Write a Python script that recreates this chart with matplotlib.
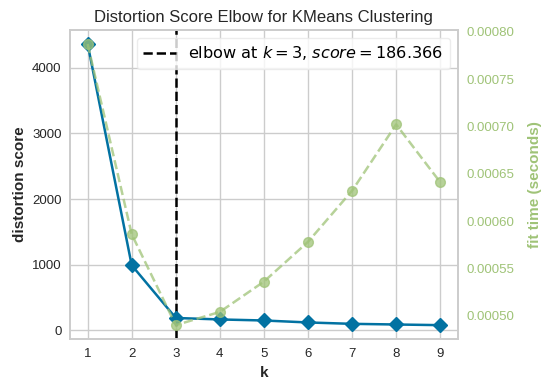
import matplotlib.pyplot as plt
import numpy as np

# values
k_values = [1, 2, 3, 4, 5, 6, 7, 8, 9]
distortion = [4364, 990, 186.366, 164, 148, 118, 97, 87, 77]
fit_time = [0.000787, 0.000586, 0.000490, 0.000504, 0.000536,
            0.000578, 0.000632, 0.000702, 0.000641]
elbow_k = 3
elbow_score = 186.366

blue = "#0272a2"
green = "#9fc377"

plt.rcParams['font.family'] = ['Liberation Sans', 'DejaVu Sans']
plt.rcParams['mathtext.fontset'] = 'dejavusans'
plt.rcParams['axes.edgecolor'] = '#cccccc'
plt.rcParams['grid.color'] = '#cccccc'
plt.rcParams['xtick.color'] = '#262626'
plt.rcParams['ytick.color'] = '#262626'
plt.rcParams['axes.labelcolor'] = '#262626'

fig, ax = plt.subplots(figsize=(5.47, 3.89), dpi=100)
fig.subplots_adjust(left=0.128, right=0.837, top=0.923, bottom=0.128)

ax.plot(k_values, distortion, marker="D", color=blue, lw=1.8, ms=7, zorder=3)
ax.axvline(elbow_k, color="black", linestyle="--", lw=1.8,
           label="elbow at $k={}$, $score={:.3f}$".format(elbow_k, elbow_score))
ax.grid(True, color="#cccccc", lw=1)
ax.set_axisbelow(True)
for s in ax.spines.values():
    s.set_color("#cccccc")
    s.set_linewidth(1.2)
ax.tick_params(length=0, labelsize=9.5, pad=6)
ax.set_xticks(k_values)
ax.set_ylabel("distortion score", fontsize=11, fontweight="bold")
ax.set_xlabel("k", fontsize=11, fontweight="bold", labelpad=5)
ax.set_title("Distortion Score Elbow for KMeans Clustering", fontsize=12, color="#262626")

ax2 = ax.twinx()
ax2.plot(k_values, fit_time, marker="o", color=green, linestyle="--", lw=1.8,
         ms=7, alpha=0.75, zorder=2)
ax2.grid(False)
ax2.tick_params(axis="y", colors=green, length=0, labelsize=9.5, pad=6)
ax2.set_ylabel("fit time (seconds)", color=green, fontsize=11, fontweight="bold", labelpad=10)
for s in ax2.spines.values():
    s.set_color("#cccccc")
    s.set_linewidth(1.2)
ax2.set_yticks([0.0005, 0.00055, 0.0006, 0.00065, 0.0007, 0.00075, 0.0008])
ax2.set_yticklabels(["{:.5f}".format(v) for v in ax2.get_yticks()])

leg = ax.legend(loc="upper right", prop={"family": "DejaVu Sans", "size": 11.6},
                frameon=True, handlelength=2.0)
leg.get_frame().set_edgecolor("#e8e8e8")

fig.savefig("out.png", dpi=100)
